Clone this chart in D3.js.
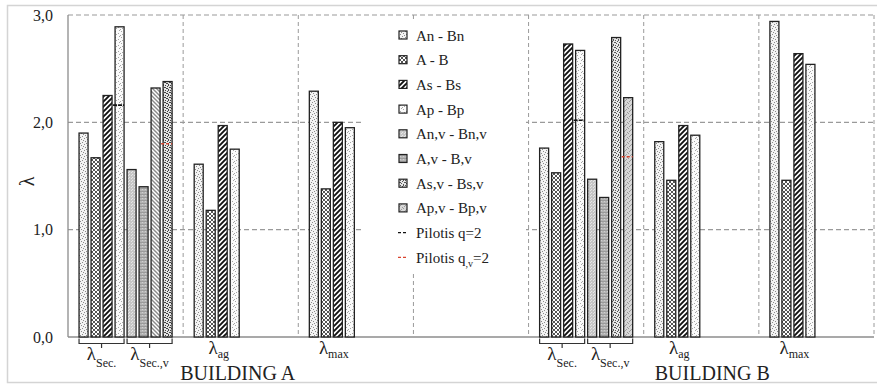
<!DOCTYPE html>
<html><head><meta charset="utf-8">
<script src="https://cdn.jsdelivr.net/npm/d3@7/dist/d3.min.js"></script>
<style>
body{margin:0;background:#fff;}
svg text{fill:#222;font-family:"Liberation Serif",serif;}
</style></head>
<body><svg id="c" width="877" height="385"></svg>
<script>
// ---------- DATA ----------
const categories = ["A_sec","A_ag","A_max","gap","B_sec","B_ag","B_max"];
const seriesNames = ["An - Bn","A - B","As - Bs","Ap - Bp","An,v - Bn,v","A,v - B,v","As,v - Bs,v","Ap,v - Bp,v"];
const vAnBn   = [1.90, 1.61, 2.29, null, 1.76, 1.82, 2.94];
const vAB     = [1.67, 1.18, 1.38, null, 1.53, 1.46, 1.46];
const vAsBs   = [2.25, 1.97, 2.00, null, 2.73, 1.97, 2.64];
const vApBp   = [2.89, 1.75, 1.95, null, 2.67, 1.88, 2.54];
const vAnBnV  = [1.56, null, null, null, 1.47, null, null];
const vABV    = [1.40, null, null, null, 1.30, null, null];
const vAsBsV  = [2.32, null, null, null, 2.79, null, null];
const vApBpV  = [2.38, null, null, null, 2.23, null, null];
const seriesValues = [vAnBn, vAB, vAsBs, vApBp, vAnBnV, vABV, vAsBsV, vApBpV];
// Pilotis reference marks (drawn on Ap-Bp and Ap,v-Bp,v bars)
const pilotisQ  = [2.16, null, null, null, 2.02, null, null];
const pilotisQv = [1.80, null, null, null, 1.68, null, null];
const yTicks = [0, 1, 2, 3];
const yTickLabels = ["0,0", "1,0", "2,0", "3,0"];
const legendLabels = ["An - Bn","A - B","As - Bs","Ap - Bp","An,v - Bn,v","A,v - B,v","As,v - Bs,v","Ap,v - Bp,v","Pilotis q=2","Pilotis q,v=2"];
// group labels: [category, first slot, last slot, main, subscript, brace]
const groupLabels = [
  ["A_sec",0,3,"λ","Sec.",true],["A_sec",4,7,"λ","Sec.,v",true],
  ["A_ag",0,3,"λ","ag",false],["A_max",0,3,"λ","max",false],
  ["B_sec",0,3,"λ","Sec.",true],["B_sec",4,7,"λ","Sec.,v",true],
  ["B_ag",0,3,"λ","ag",false],["B_max",0,3,"λ","max",false]
];
const buildingLabels = [["BUILDING A","A_ag",-3],["BUILDING B","B_ag",11]];

// ---------- SETUP ----------
const FONT = "Liberation Serif, serif";
const svg = d3.select("#c");
const L = 68, R = 874, T = 15, B = 337;
const x0 = d3.scaleBand().domain(categories).range([L, R]).paddingInner(0).paddingOuter(0);
const x1 = d3.scaleBand().domain(d3.range(8)).range([0, x0.bandwidth()]).paddingInner(0.25).paddingOuter(0.92);
const y = d3.scaleLinear().domain([0, 3]).range([B, T]);

// frame
svg.append("rect").attr("x",7.5).attr("y",5.5).attr("width",880).attr("height",377)
  .attr("fill","none").attr("stroke","#d4d4d4").attr("stroke-width",1.5);

// ---------- PATTERNS ----------
const defs = svg.append("defs");
function pat(id, w, h, bg, draw){
  const p = defs.append("pattern").attr("id",id).attr("patternUnits","userSpaceOnUse").attr("width",w).attr("height",h);
  p.append("rect").attr("width",w).attr("height",h).attr("fill",bg);
  draw(p);
}
function dots(p, pts, c, s){ pts.forEach(d=>p.append("rect").attr("x",d[0]).attr("y",d[1]).attr("width",s||1).attr("height",s||1).attr("fill",c)); }
pat("p0",6,6,"#f3f3f3",p=>dots(p,[[0,0],[3,1],[1,3],[4,4],[2,5],[5,2]],"#8c8c8c"));
pat("p1",4,4,"#ffffff",p=>{
  p.append("path").attr("d","M0,0L4,4M4,0L0,4").attr("stroke","#555").attr("stroke-width",1);
});
pat("p2",5,5,"#ffffff",p=>{
  p.append("path").attr("d","M-1,6L6,-1M-1,1L1,-1M4,6L6,4").attr("stroke","#111").attr("stroke-width",1.9);
});
pat("p3",6,6,"#fafafa",p=>dots(p,[[1,1],[4,3],[2,4],[5,0],[0,5]],"#a5a5a5"));
pat("p4",3,3,"#c6c6c6",p=>dots(p,[[0,0],[2,1]],"#e6e6e6"));
pat("p5",3,3,"#b4b4b4",p=>{ p.append("rect").attr("y",2).attr("width",3).attr("height",1).attr("fill","#9a9a9a"); dots(p,[[1,0]],"#d0d0d0"); });
pat("p6",5,5,"#e6e6e6",p=>dots(p,[[0,0],[2,1],[4,2],[1,3],[3,4],[0,2],[3,0]],"#555"));
pat("p7",5,5,"#d8d8d8",p=>dots(p,[[0,0],[2,2],[4,1],[1,4],[3,3]],"#9a9a9a"));
pat("pA6",4,4,"#ffffff",p=>{
  p.append("path").attr("d","M-1,-1L5,5M-1,3L1,5M3,-1L5,1").attr("stroke","#8a8a8a").attr("stroke-width",1.4);
});
pat("pA7",5,5,"#e4e4e4",p=>dots(p,[[0,0],[2,1],[4,2],[1,3],[3,4],[0,2],[3,0],[2,3]],"#444"));
function fillFor(s, ci){
  if (categories[ci] === "A_sec" && s === 6) return "url(#pA6)";
  if (categories[ci] === "A_sec" && s === 7) return "url(#pA7)";
  return "url(#p"+s+")";
}

// ---------- GRID ----------
const grid = svg.append("g");
yTicks.filter(t=>t>0).forEach(t=>{
  grid.append("line").attr("x1",L).attr("x2",R).attr("y1",y(t)).attr("y2",y(t))
    .attr("stroke","#9a9a9a").attr("stroke-width",1.2).attr("stroke-dasharray","5,3");
});
categories.slice(1).forEach(c=>{
  grid.append("line").attr("x1",x0(c)).attr("x2",x0(c)).attr("y1",T).attr("y2",B)
    .attr("stroke","#9a9a9a").attr("stroke-width",1).attr("stroke-dasharray","4,3");
});
grid.append("line").attr("x1",R).attr("x2",R).attr("y1",T).attr("y2",B)
  .attr("stroke","#9a9a9a").attr("stroke-width",1).attr("stroke-dasharray","4,3");

// axes lines
svg.append("line").attr("x1",L).attr("x2",L).attr("y1",T).attr("y2",B).attr("stroke","#8c8c8c").attr("stroke-width",1.3);
svg.append("line").attr("x1",L).attr("x2",R).attr("y1",B).attr("y2",B).attr("stroke","#8c8c8c").attr("stroke-width",1.3);

// y tick labels
yTicks.forEach((t,i)=>{
  svg.append("text").style("font-family",FONT).attr("x",53).attr("y",y(t)).attr("dy","0.35em").attr("text-anchor","end")
    .attr("font-size",16).text(yTickLabels[i]);
});
svg.append("text").style("font-family",FONT).attr("transform","translate(34,"+(y(1.45))+") rotate(-90)").attr("text-anchor","middle")
  .attr("font-size",20).text("λ");

// ---------- BARS ----------
const bars = svg.append("g");
seriesValues.forEach((vals,s)=>{
  vals.forEach((v,ci)=>{
    if (v == null) return;
    const xx = x0(categories[ci]) + x1(s);
    bars.append("rect").attr("x",xx).attr("y",y(v)).attr("width",x1.bandwidth()).attr("height",y(0)-y(v))
      .attr("fill",fillFor(s,ci)).attr("stroke","#222").attr("stroke-width",1.3);
  });
});
// pilotis marks
function marks(vals, s, color, dash){
  vals.forEach((v,ci)=>{
    if (v == null) return;
    const xx = x0(categories[ci]) + x1(s);
    svg.append("line").attr("x1",xx-2).attr("x2",xx+x1.bandwidth()).attr("y1",y(v)).attr("y2",y(v))
      .attr("stroke",color).attr("stroke-width",1.6).attr("stroke-dasharray",dash);
  });
}
marks(pilotisQ, 3, "#111", "4,1");
marks(pilotisQv, 7, "#d9442f", "3,2");

// ---------- LEGEND ----------
const lg = svg.append("g");
lg.append("rect").attr("x",363).attr("y",20).attr("width",163).attr("height",252).attr("fill","#fff");
legendLabels.forEach((lab,i)=>{
  const cy = 35 + i*24.7;
  if (i < 8) {
    lg.append("rect").attr("x",399).attr("y",cy-4).attr("width",8).attr("height",8)
      .attr("fill","url(#p"+i+")").attr("stroke","#222").attr("stroke-width",1.2);
  } else {
    lg.append("line").attr("x1",398).attr("x2",408).attr("y1",cy).attr("y2",cy)
      .attr("stroke", i===8 ? "#111" : "#d9442f").attr("stroke-width",1.3).attr("stroke-dasharray","3,2");
  }
  const t = lg.append("text").style("font-family",FONT).attr("x",416).attr("y",cy+5.5).attr("font-size",15);
  if (lab.indexOf(",v=") > 0) {
    t.append("tspan").text("Pilotis q");
    t.append("tspan").attr("dy",4).attr("font-size",10).text(",v");
    t.append("tspan").attr("dy",-4).text("=2");
  } else t.text(lab);
});

// ---------- GROUP LABELS ----------
groupLabels.forEach(g=>{
  const bx0 = x0(g[0]) + x1(g[1]);
  const bx1 = x0(g[0]) + x1(g[2]) + x1.bandwidth();
  const cx = (bx0+bx1)/2;
  if (g[5]) {
    svg.append("path").attr("d",`M${bx0},338.5V343.5H${bx1}V338.5M${cx},343.5V348`)
      .attr("fill","none").attr("stroke","#333").attr("stroke-width",1.2);
  }
  const base = g[5] ? 360 : 354;
  const subDy = g[5] ? 7 : 4;
  const t = svg.append("text").style("font-family",FONT).attr("x",cx + (g[5]?0:2)).attr("y",base).attr("text-anchor","middle").attr("font-size",19);
  t.append("tspan").text(g[3]);
  t.append("tspan").attr("dy",subDy).attr("font-size",12).text(g[4]);
});
buildingLabels.forEach(b=>{
  svg.append("text").style("font-family",FONT).attr("x",x0(b[1])+x0.bandwidth()/2 + b[2]).attr("y",380).attr("text-anchor","middle")
    .attr("font-size",20).text(b[0]);
});
</script></body></html>
